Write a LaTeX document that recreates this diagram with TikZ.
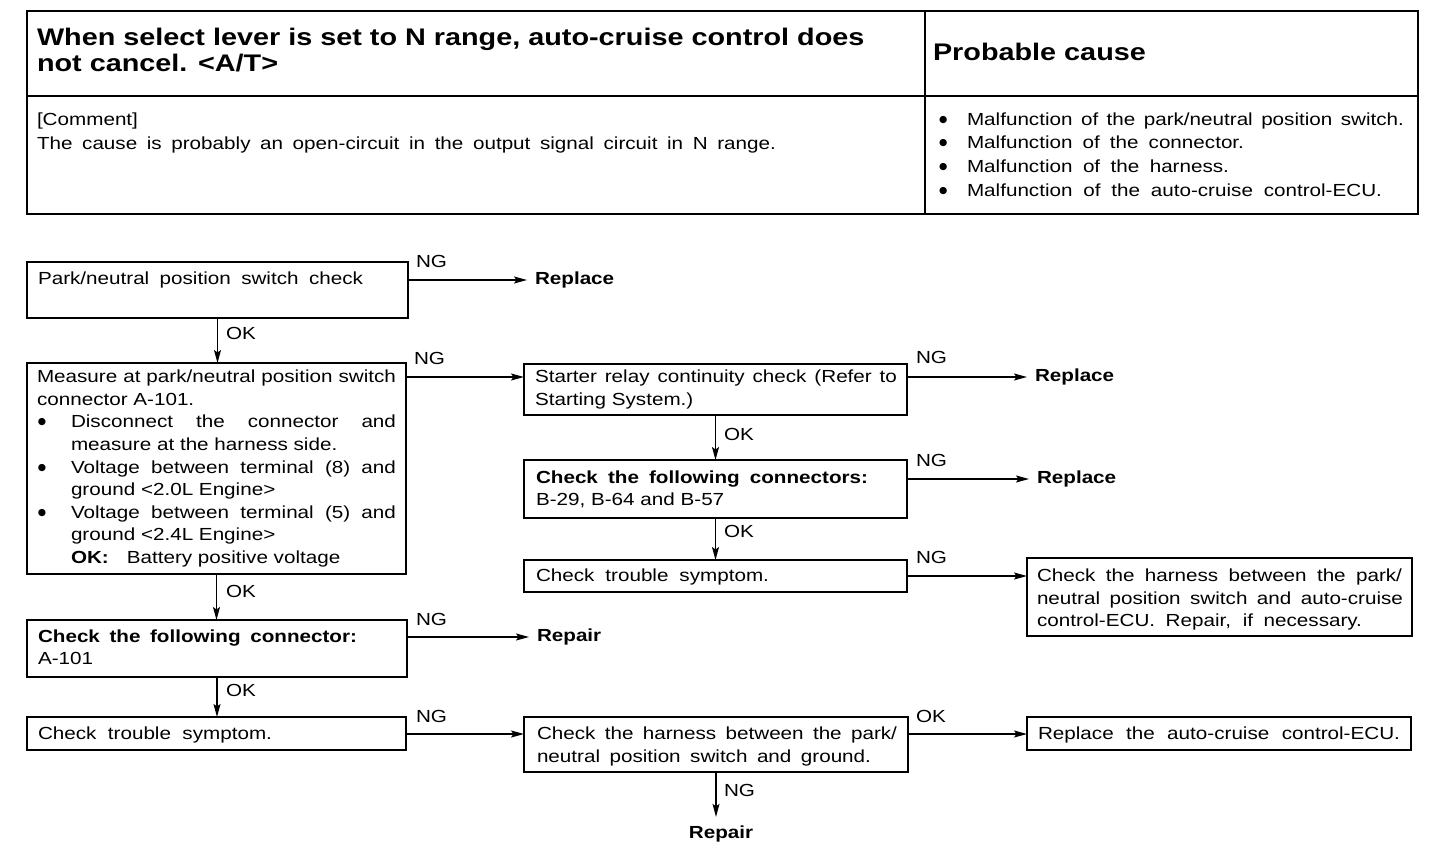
\documentclass[tikz,border=0pt]{standalone}
\usepackage{fontspec}
\setmainfont{Liberation Sans}[FakeStretch=1.18]
\newfontfamily\titlefont{Liberation Sans}[FakeStretch=1.2]
\newfontfamily\symfont{DejaVu Sans}
\usetikzlibrary{arrows.meta}
\newcommand{\jline}[2]{\makebox[#1pt][s]{#2}}
\newcommand{\bul}[1]{\makebox[#1pt][l]{\hspace{1pt}\raisebox{3pt}{\symfont\fontsize{9.5}{9.5}\selectfont ●}}}
\begin{document}
\begin{tikzpicture}[x=1pt,y=-1pt,
  every node/.style={inner sep=0pt, outer sep=0pt},
  body/.style={font=\fontsize{17.5}{22.6}\selectfont, align=left, anchor=north west},
  box/.style={draw, line width=1.7pt, anchor=north west},
  lbl/.style={font=\fontsize{17.5}{20}\selectfont, anchor=west},
  res/.style={font=\fontsize{17.5}{20}\selectfont\bfseries, anchor=west, inner xsep=8pt},
  conn/.style={line width=1.2pt, -{Stealth[length=13pt,width=7pt,inset=2.5pt]}},
]
\fill[white] (0,0) rectangle (1456,858);
\useasboundingbox (0,0) rectangle (1456,858);

% ---------- header table ----------
\draw[line width=2.6pt] (27,11) rectangle (1418,214);
\draw[line width=1.4pt] (27,96) -- (1418,96);
\draw[line width=1.4pt] (925,11) -- (925,214);
\node[anchor=north west, align=left, font=\titlefont\bfseries\fontsize{24}{26.5}\selectfont] (title) at (37,28)
  {When select lever is set to N range, auto-cruise control does\\not cancel. <A/T>};
\node[anchor=north west, font=\titlefont\bfseries\fontsize{24}{26}\selectfont] (pc) at (933,43) {Probable cause};
\node[body, font=\fontsize{17.5}{24}\selectfont] (comment) at (37,112.5)
  {[Comment]\\\jline{739}{The cause is probably an open-circuit in the output signal circuit in N range.}};
\node[body, font=\fontsize{17.5}{23.7}\selectfont] (causes) at (938,112.5)
  {\bul{29}\jline{437}{Malfunction of the park/neutral position switch.}\\
   \bul{29}\jline{277}{Malfunction of the connector.}\\
   \bul{29}\jline{262}{Malfunction of the harness.}\\
   \bul{29}\jline{415}{Malfunction of the auto-cruise control-ECU.}};

% ---------- boxes ----------
\node[box, minimum width=381pt, minimum height=56pt] (A) at (27,262) {};
\node[box, minimum width=379pt, minimum height=211pt] (B) at (27,363) {};
\node[box, minimum width=383pt, minimum height=51pt] (C) at (524,364) {};
\node[box, minimum width=383pt, minimum height=58pt] (D) at (524,460) {};
\node[box, minimum width=383pt, minimum height=32pt] (E) at (524,560) {};
\node[box, minimum width=385pt, minimum height=78pt] (F) at (1027,558) {};
\node[box, minimum width=380pt, minimum height=57pt] (G) at (27,620) {};
\node[box, minimum width=379pt, minimum height=33pt] (H) at (27,717) {};
\node[box, minimum width=384pt, minimum height=55pt] (I) at (524,717) {};
\node[box, minimum width=384pt, minimum height=33pt] (J) at (1027,717) {};

% ---------- box texts ----------
\node[body] (tA) at (38,272) {\jline{325}{Park/neutral position switch check}};
\node[body] (tB) at (37,370)
  {\jline{359}{Measure at park/neutral position switch}\\
   connector A-101.\\
   \bul{34}\jline{325}{Disconnect the connector and}\\
   \hspace*{34pt}measure at the harness side.\\
   \bul{34}\jline{325}{Voltage between terminal (8) and}\\
   \hspace*{34pt}ground <2.0L Engine>\\
   \bul{34}\jline{325}{Voltage between terminal (5) and}\\
   \hspace*{34pt}ground <2.4L Engine>\\
   \hspace*{34pt}\textbf{OK:}\hspace{18pt}Battery positive voltage};
\node[body] (tC) at (535,370)
  {\jline{362}{Starter relay continuity check (Refer to}\\Starting System.)};
\node[body, font=\fontsize{17.5}{22}\selectfont] (tD) at (536,471)
  {\textbf{\jline{332}{Check the following connectors:}}\\B-29, B-64 and B-57};
\node[body] (tE) at (536,569) {\jline{233}{Check trouble symptom.}};
\node[body, font=\fontsize{17.5}{22.5}\selectfont] (tF) at (1037,569)
  {\jline{365}{Check the harness between the park/}\\
   \jline{366}{neutral position switch and auto-cruise}\\
   \jline{325}{control-ECU. Repair, if necessary.}};
\node[body, font=\fontsize{17.5}{22}\selectfont] (tG) at (38,630)
  {\textbf{\jline{319}{Check the following connector:}}\\A-101};
\node[body] (tH) at (38,727) {\jline{234}{Check trouble symptom.}};
\node[body, font=\fontsize{17.5}{23}\selectfont] (tI) at (537,727)
  {\jline{360}{Check the harness between the park/}\\
   \jline{334}{neutral position switch and ground.}};
\node[body] (tJ) at (1038,727) {\jline{362}{Replace the auto-cruise control-ECU.}};

% ---------- results ----------
\node[res] (r1) at (527,280) {Replace};
\node[res] (r2) at (1027,377) {Replace};
\node[res] (r3) at (1029,479) {Replace};
\node[res] (r4) at (529,637) {Repair};
\node[res, anchor=center, inner ysep=9pt, inner xsep=0pt] (r5) at (721,834) {Repair};

% ---------- connectors ----------
\draw[conn] (A.east |- r1.west) -- (r1.west);
\draw[conn] (A.south) -- (A.south |- B.north);
\draw[conn] ([yshift=-14pt]B.north east) -- ([yshift=-14pt]B.north east -| C.west);
\draw[conn] (C.east |- r2.west) -- (r2.west);
\draw[conn] (C.south) -- (C.south |- D.north);
\draw[conn] (D.east |- r3.west) -- (r3.west);
\draw[conn] (D.south) -- (D.south |- E.north);
\draw[conn] ([yshift=-16pt]E.north east) -- ([yshift=-16pt]E.north east -| F.west);
\draw[conn] (B.south) -- (B.south |- G.north);
\draw[conn] (G.east |- r4.west) -- (r4.west);
\draw[conn] (G.south) -- (G.south |- H.north);
\draw[conn] ([yshift=-17pt]H.north east) -- ([yshift=-17pt]H.north east -| I.west);
\draw[conn] ([yshift=-17pt]I.north east) -- ([yshift=-17pt]I.north east -| J.west);
\draw[conn] (I.south) -- (I.south |- r5.north);

% ---------- labels ----------
\node[lbl] (ng1) at (416,261) {NG};
\node[lbl] (ng2) at (414,358) {NG};
\node[lbl] (ng3) at (916,357) {NG};
\node[lbl] (ng4) at (916,460) {NG};
\node[lbl] (ng5) at (916,557) {NG};
\node[lbl] (ng6) at (416,619) {NG};
\node[lbl] (ng7) at (416,716) {NG};
\node[lbl] (ok8) at (916,716) {OK};
\node[lbl] (ok1) at (226,333) {OK};
\node[lbl] (ok2) at (724,434) {OK};
\node[lbl] (ok3) at (724,531) {OK};
\node[lbl] (ok4) at (226,591) {OK};
\node[lbl] (ok5) at (226,690) {OK};
\node[lbl] (ng9) at (724,790) {NG};
\end{tikzpicture}
\end{document}
